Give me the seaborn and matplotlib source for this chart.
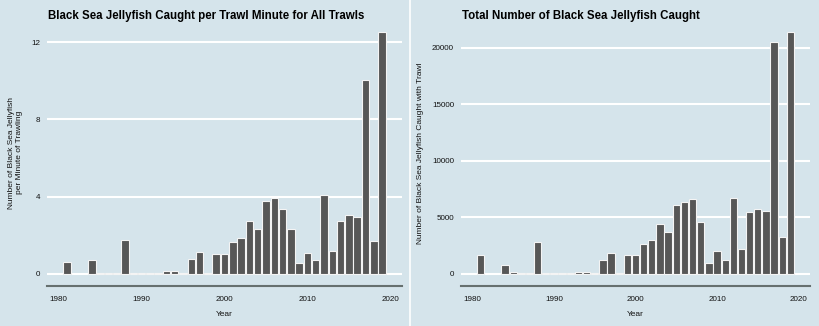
import matplotlib
matplotlib.use("Agg")
import matplotlib.pyplot as plt
import seaborn as sns
import pandas as pd

# data
years = [1981, 1984, 1985, 1986, 1987, 1988, 1989, 1990, 1991, 1992, 1993, 1994,
         1995, 1996, 1997, 1998, 1999, 2000, 2001, 2002, 2003, 2004, 2005, 2006,
         2007, 2008, 2009, 2010, 2011, 2012, 2013, 2014, 2015, 2016, 2017, 2018, 2019]
per_minute = [0.60, 0.71, 0.07, 0.05, 0.05, 1.74, 0.05, 0.05, 0.05, 0.05, 0.17, 0.17,
              0.05, 0.78, 1.12, 0.05, 1.03, 1.03, 1.66, 1.84, 2.72, 2.33, 3.78, 3.91,
              3.36, 2.33, 0.57, 1.07, 0.71, 4.09, 1.19, 2.72, 3.03, 2.95, 10.02, 1.72, 12.55]
total_caught = [1680, 794, 150, 110, 110, 2790, 110, 110, 110, 110, 200, 200,
                110, 1260, 1820, 100, 1650, 1650, 2650, 2970, 4380, 3680, 6060, 6350,
                6590, 4560, 970, 2000, 1200, 6700, 2200, 5470, 5760, 5560, 20470, 3240, 21410]

df = pd.DataFrame({"Year": years, "per_minute": per_minute, "total": total_caught})

BG = "#d5e4eb"
BAR = "#575757"
sns.set_style("white")
plt.rcParams["font.family"] = ["Liberation Sans", "DejaVu Sans"]
plt.rcParams["text.color"] = "#111111"
plt.rcParams["axes.labelcolor"] = "#111111"
plt.rcParams["xtick.color"] = "#111111"
plt.rcParams["ytick.color"] = "#111111"

fig = plt.figure(figsize=(8.19, 3.26), dpi=100, facecolor=BG)
W, H = 819, 326


def px_axes(x0, x1, y0, y1):
    return fig.add_axes([x0 / W, 1 - y1 / H, (x1 - x0) / W, (y1 - y0) / H])


def style(ax, col, yticks, title, ylabel, title_x):
    sns.barplot(data=df, x="Year", y=col, native_scale=True, color=BAR,
                saturation=1, width=0.9, edgecolor="#f4f4f4", linewidth=0.8, ax=ax)
    ax.set_facecolor(BG)
    ymax = max(df[col])
    ax.set_xlim(1978.6, 2021.4)
    ax.set_ylim(-0.05 * ymax, 1.05 * ymax)
    ax.set_xticks([1980, 1990, 2000, 2010, 2020])
    ax.set_yticks(yticks)
    for y in yticks:
        ax.axhline(y, color="white", lw=1.5, zorder=0)
    for s in ["top", "right", "left"]:
        ax.spines[s].set_visible(False)
    ax.spines["bottom"].set_color("#66706f")
    ax.spines["bottom"].set_linewidth(1.5)
    ax.tick_params(axis="x", direction="in", length=3, width=0.8, color="#66706f",
                   labelsize=5.8, pad=7)
    ax.tick_params(axis="y", length=0, labelsize=5.8, pad=5)
    ax.set_xlabel("Year", fontsize=6, labelpad=6)
    ax.set_ylabel(ylabel, fontsize=6, labelpad=6)
    fig.text(title_x / W, 1 - 19 / H, title, fontsize=8.3, fontweight="bold",
             ha="left", va="baseline", color="black")


ax1 = px_axes(47, 402, 19.5, 286)
style(ax1, "per_minute", [0, 4, 8, 12],
      "Black Sea Jellyfish Caught per Trawl Minute for All Trawls",
      "Number of Black Sea Jellyfish\nper Minute of Trawling", 47.5)

ax2 = px_axes(461, 810, 19.5, 286)
style(ax2, "total", [0, 5000, 10000, 15000, 20000],
      "Total Number of Black Sea Jellyfish Caught",
      "Number of Black Sea Jellyfish Caught with Trawl", 461.5)

# white divider between the two panels
fig.add_artist(plt.Line2D([409.5 / W, 409.5 / W], [0, 1], color="white", lw=1.2))

fig.savefig("out.png", dpi=100, facecolor=BG)
